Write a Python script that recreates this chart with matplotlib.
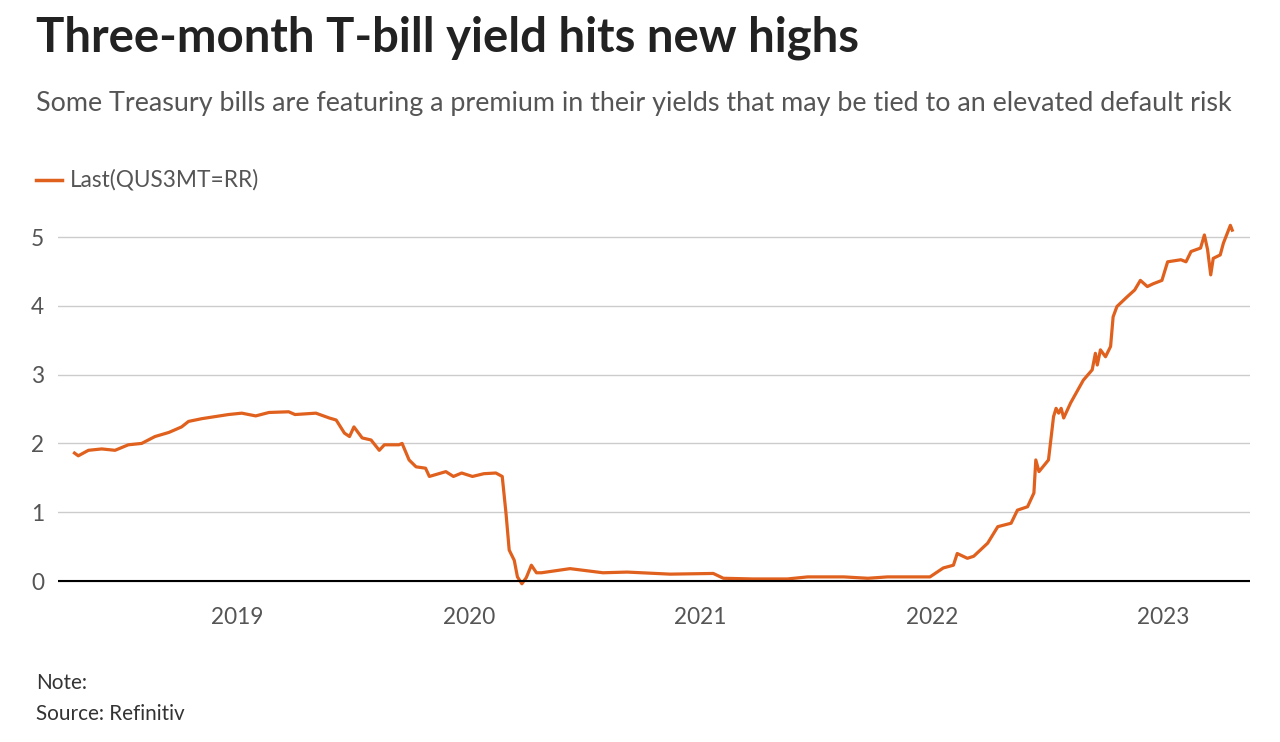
import pandas as pd
import matplotlib.pyplot as plt
import matplotlib.dates as mdates

plt.rcParams['font.family'] = ['Lato', 'DejaVu Sans']

dates = ['2018-04-19', '2018-04-25', '2018-05-11', '2018-06-01', '2018-06-22', '2018-07-13',
         '2018-08-03', '2018-08-24', '2018-09-15', '2018-10-05', '2018-10-16', '2018-11-06',
         '2018-11-27', '2018-12-18', '2019-01-08', '2019-01-30', '2019-02-20', '2019-03-23',
         '2019-04-02', '2019-05-05', '2019-05-26', '2019-06-06', '2019-06-19', '2019-06-27',
         '2019-07-04', '2019-07-17', '2019-07-31', '2019-08-13', '2019-08-21', '2019-09-13',
         '2019-09-18', '2019-09-29', '2019-10-10', '2019-10-25', '2019-10-31', '2019-11-26',
         '2019-12-08', '2019-12-21', '2020-01-07', '2020-01-25', '2020-02-13', '2020-02-23',
         '2020-02-29', '2020-03-05', '2020-03-13', '2020-03-18', '2020-03-25', '2020-04-01',
         '2020-04-09', '2020-04-17', '2020-04-25', '2020-06-09', '2020-07-31', '2020-09-07',
         '2020-11-14', '2021-01-21', '2021-02-06', '2021-03-25', '2021-05-18', '2021-06-19',
         '2021-08-15', '2021-09-22', '2021-10-23', '2021-12-29', '2022-01-19', '2022-02-04',
         '2022-02-10', '2022-02-26', '2022-03-08', '2022-03-30', '2022-04-15', '2022-05-06',
         '2022-05-16', '2022-06-01', '2022-06-11', '2022-06-14', '2022-06-19', '2022-07-04',
         '2022-07-12', '2022-07-16', '2022-07-20', '2022-07-24', '2022-07-28', '2022-08-08',
         '2022-08-28', '2022-09-11', '2022-09-16', '2022-09-19', '2022-09-24', '2022-10-02',
         '2022-10-10', '2022-10-14', '2022-10-20', '2022-11-05', '2022-11-17', '2022-11-26',
         '2022-12-07', '2022-12-16', '2022-12-30', '2023-01-08', '2023-01-29', '2023-02-06',
         '2023-02-14', '2023-03-01', '2023-03-07', '2023-03-12', '2023-03-17', '2023-03-21',
         '2023-04-01', '2023-04-06', '2023-04-17', '2023-04-20']
yields = [1.86, 1.82, 1.90, 1.92, 1.90, 1.98,
          2.00, 2.10, 2.16, 2.24, 2.32, 2.36,
          2.39, 2.42, 2.44, 2.40, 2.45, 2.46,
          2.42, 2.44, 2.37, 2.34, 2.15, 2.10,
          2.24, 2.08, 2.05, 1.90, 1.98, 1.98,
          2.00, 1.76, 1.66, 1.64, 1.52, 1.59,
          1.52, 1.57, 1.52, 1.56, 1.57, 1.52,
          0.98, 0.45, 0.30, 0.06, -0.04, 0.05,
          0.23, 0.12, 0.12, 0.18, 0.12, 0.13,
          0.10, 0.11, 0.04, 0.03, 0.03, 0.06,
          0.06, 0.04, 0.06, 0.06, 0.19, 0.23,
          0.40, 0.33, 0.36, 0.55, 0.79, 0.84,
          1.03, 1.08, 1.28, 1.76, 1.59, 1.76,
          2.39, 2.51, 2.44, 2.51, 2.37, 2.59,
          2.92, 3.07, 3.31, 3.14, 3.36, 3.26,
          3.41, 3.84, 3.99, 4.13, 4.23, 4.37,
          4.28, 4.32, 4.37, 4.64, 4.67, 4.64,
          4.79, 4.84, 5.03, 4.82, 4.45, 4.69,
          4.74, 4.91, 5.17, 5.10]
series_name = 'Last(QUS3MT=RR)'
y_ticks = [0, 1, 2, 3, 4, 5]
x_ticks = ['2019-01-01', '2020-01-01', '2021-01-01', '2022-01-01', '2023-01-01']

df = pd.DataFrame({'date': pd.to_datetime(dates), 'value': yields})

W, H = 1280, 742
fig = plt.figure(figsize=(W / 100, H / 100), dpi=100)
ax = fig.add_axes([58 / W, 1 - 587.9 / H, (1250 - 58) / W, (587.9 - 216.4) / H])

orange = '#e0601e'
ax.plot(df['date'], df['value'], color=orange, lw=2.3, solid_joinstyle='round')

ax.set_ylim(-0.1, 5.3)
ax.set_xlim(pd.Timestamp('2018-03-24'), pd.Timestamp('2023-05-18'))
ax.set_yticks(y_ticks)
ax.set_xticks(pd.to_datetime(x_ticks))
ax.xaxis.set_major_formatter(mdates.DateFormatter('%Y'))
ax.grid(axis='y', color='#cccccc', lw=1)
ax.axhline(0, color='black', lw=1.5, zorder=3)
for s in ax.spines.values():
    s.set_visible(False)
ax.tick_params(axis='both', length=0, labelsize=16.3, labelcolor='#555555')
ax.tick_params(axis='x', pad=14)
for lab in ax.get_yticklabels():
    lab.set_horizontalalignment('left')
    lab.set_x(-(58 - 36) / (1250 - 58))

fig.text(36 / W, 1 - 38 / H, 'Three-month T-bill yield hits new highs', fontsize=34,
         fontweight='bold', color='#222222', va='center', ha='left')
fig.text(36 / W, 1 - 104 / H, 'Some Treasury bills are featuring a premium in their yields that may be tied to an elevated default risk',
         fontsize=19.4, color='#555555', va='center', ha='left')
fig.lines.append(plt.Line2D([36 / W, 62 / W], [1 - 180 / H, 1 - 180 / H], color=orange, lw=2.5,
                            transform=fig.transFigure))
fig.text(70 / W, 1 - 180 / H, series_name, fontsize=16.3, color='#555555', va='center', ha='left')
fig.text(36 / W, 1 - 683 / H, 'Note:', fontsize=14.9, color='#333333', va='center', ha='left')
fig.text(36 / W, 1 - 714 / H, 'Source: Refinitiv', fontsize=14.9, color='#333333', va='center', ha='left')

plt.savefig('out.png', dpi=100)
plt.close(fig)
